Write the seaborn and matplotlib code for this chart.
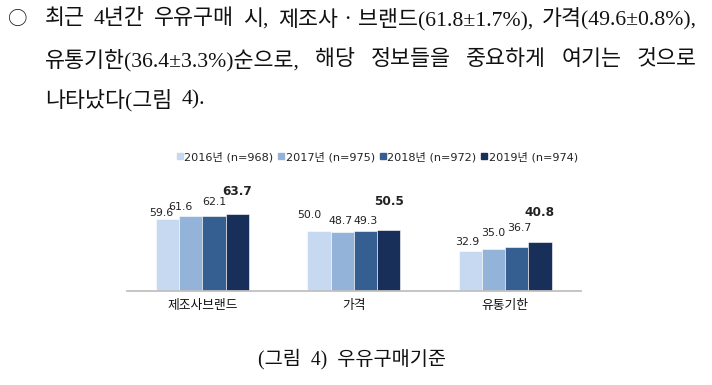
import matplotlib
matplotlib.use("Agg")
import matplotlib.pyplot as plt
from matplotlib.lines import Line2D
import seaborn as sns
import pandas as pd

# data
categories = ["제조사브랜드", "가격", "유통기한"]
years = ["2016년 (n=968)", "2017년 (n=975)", "2018년 (n=972)", "2019년 (n=974)"]
v2016 = [59.6, 50.0, 32.9]
v2017 = [61.6, 48.7, 35.0]
v2018 = [62.1, 49.3, 36.7]
v2019 = [63.7, 50.5, 40.8]

para_lines = [
    "최근 4년간 우유구매 시, 제조사ㆍ브랜드(61.8±1.7%), 가격(49.6±0.8%),",
    "유통기한(36.4±3.3%)순으로, 해당 정보들을 중요하게 여기는 것으로",
    "나타났다(그림 4).",
]
caption = "(그림 4) 우유구매기준"

colors = ["#C6D9F1", "#94B3D8", "#355F90", "#182F59"]
# label placement (dx, dy in px from bar top centre), per series x category
label_dx = [[-6, -10, -3], [-10, -1.5, 0], [0, 0.5, 3], [0, 0, 0]]
label_dy = [[6, 15.5, 9.5], [9.5, 11, 16], [14, 10, 19], [22, 28, 29]]

sns.set_style("white")
plt.rcParams["font.family"] = ["Noto Sans CJK KR", "DejaVu Sans"]
serif_kr = ["Liberation Serif", "Noto Sans CJK KR"]

W, H = 712, 385
fig = plt.figure(figsize=(W / 100, H / 100), dpi=100)

rows = []
for yr, vals in zip(years, [v2016, v2017, v2018, v2019]):
    for c, v in zip(categories, vals):
        rows.append({"항목": c, "연도": yr, "값": v})
df = pd.DataFrame(rows)

ax = fig.add_axes([126.75 / W, (H - 291) / H, 454 / W, 121 / H])
sns.barplot(data=df, x="항목", y="값", hue="연도", order=categories,
            hue_order=years, palette=colors, saturation=1, width=0.614, gap=0,
            edgecolor="white", linewidth=0.4, errorbar=None,
            legend=False, ax=ax)
ax.set_ylim(0, 100)
ax.set_xlim(-0.5, 2.5)
ax.set_xlabel("")
ax.set_ylabel("")
ax.set_yticks([])
for s in ["top", "right", "left"]:
    ax.spines[s].set_visible(False)
ax.spines["bottom"].set_color("#c0c0c0")
ax.spines["bottom"].set_linewidth(1.3)
ax.tick_params(axis="x", length=0, pad=6, labelsize=9.2, labelcolor="#111111")

for i, cont in enumerate(ax.containers):
    for j, bar in enumerate(cont):
        v = bar.get_height()
        bold = i == 3
        ax.annotate(f"{v:.1f}", (bar.get_x() + bar.get_width() / 2, v),
                    xytext=(label_dx[i][j] * 0.72, label_dy[i][j] * 0.72),
                    textcoords="offset points", ha="center", va="center",
                    fontsize=8.7 if bold else 7.9,
                    fontweight="bold" if bold else "normal",
                    family=["DejaVu Sans"], color="#222222")

handles = [Line2D([], [], marker="s", linestyle="", markersize=4.4,
                  markerfacecolor=c, markeredgecolor=c) for c in colors]
leg = fig.legend(handles, years, ncol=4, loc="center",
                 bbox_to_anchor=(377.5 / W, 1 - 157 / H), frameon=False,
                 handlelength=0.5, handletextpad=0.15, columnspacing=0.45,
                 prop={"family": ["DejaVu Sans", "Noto Sans CJK KR"], "size": 8.1})
for t in leg.get_texts():
    t.set_color("#222222")

# paragraph text, justified between x0 and x1
renderer = fig.canvas.get_renderer()


def word_widths(words, size):
    arts = [fig.text(0, 0, w, fontsize=size, family=serif_kr) for w in words]
    ws = [a.get_window_extent(renderer).width for a in arts]
    for a in arts:
        a.remove()
    return ws


# pick a size so the first line's word gaps come out narrow, as in the reference
first = para_lines[0].split(" ")
base = sum(word_widths(first, 14))
para_size = 14 * (652 - 9 * (len(first) - 1)) / base


def put_line(text, y, x0, x1, justify=True, size=para_size):
    words = text.split(" ")
    arts = [fig.text(0, 1 - y / H, w, fontsize=size, va="center", ha="left",
                     family=serif_kr, color="#111111") for w in words]
    widths = [a.get_window_extent(renderer).width for a in arts]
    if justify and len(words) > 1:
        gap = (x1 - x0 - sum(widths)) / (len(words) - 1)
    else:
        gap = size * 0.6
    x = x0
    for a, w in zip(arts, widths):
        a.set_x(x / W)
        x += w + gap


fig.text(18 / W, 1 - 19.5 / H, "○", fontsize=14, ha="center", va="center",
         family=["Noto Sans CJK KR"], color="#111111")
put_line(para_lines[0], 19.5, 45, 697)
put_line(para_lines[1], 60, 45, 697)
put_line(para_lines[2], 100, 45, 697, justify=False)

fig.text(352 / W, 1 - 359 / H, caption.replace(" ", "  "), fontsize=14.2,
         ha="center", va="center", family=serif_kr, color="#111111")

fig.savefig("out.png", dpi=100)
